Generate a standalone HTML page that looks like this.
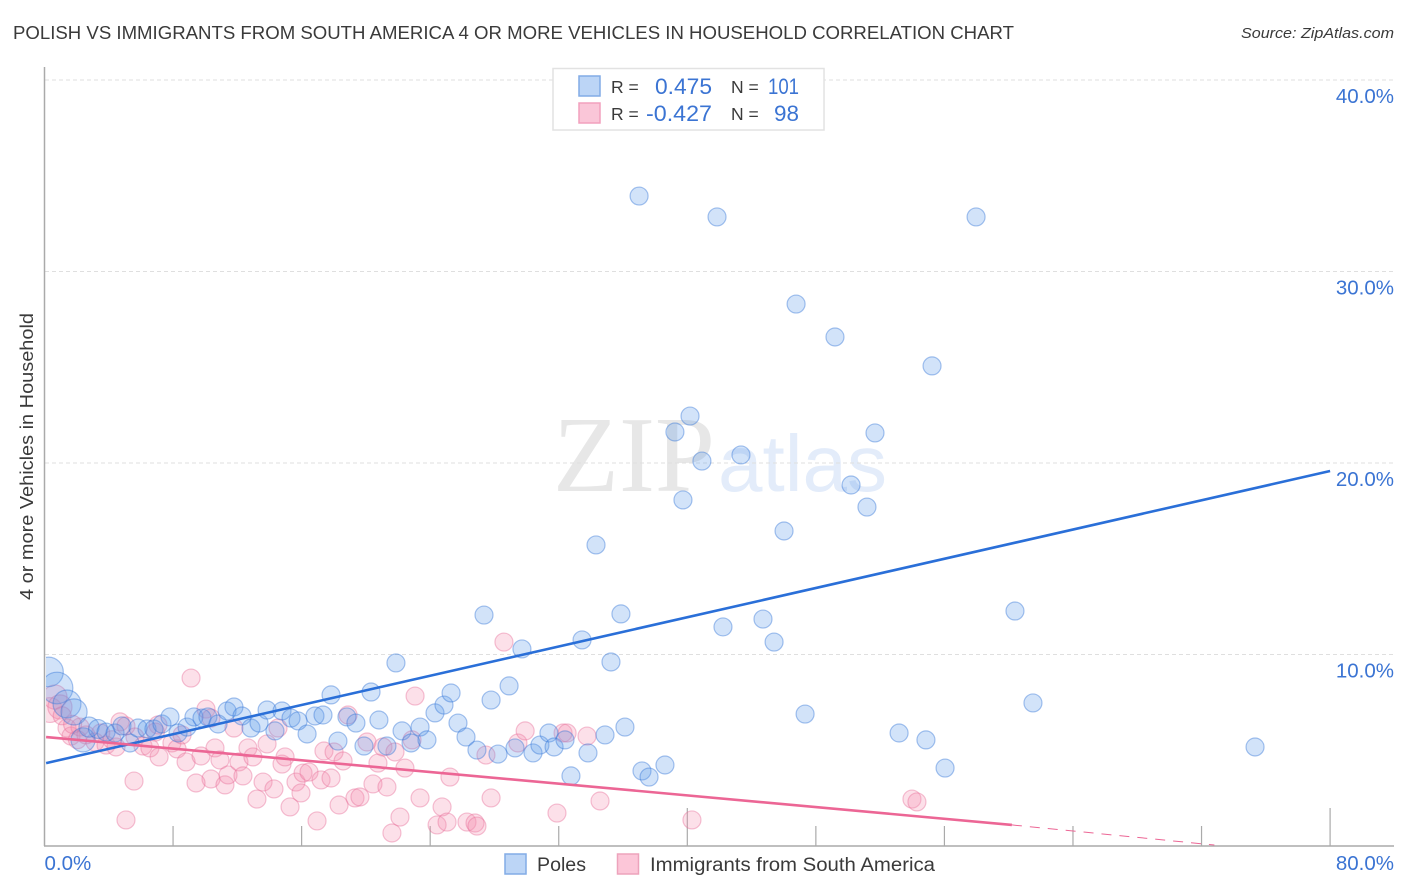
<!DOCTYPE html>
<html lang="en">
<head>
<meta charset="utf-8">
<title>Polish vs Immigrants from South America correlation chart</title>
<style>
html,body{margin:0;padding:0;background:#fff;width:1406px;height:892px;overflow:hidden}
svg{display:block;font-family:"Liberation Sans",sans-serif}
</style>
</head>
<body>
<svg id="chart" width="1406" height="892" viewBox="0 0 1406 892" xmlns="http://www.w3.org/2000/svg">
  <defs><clipPath id="plot-clip"><rect x="46" y="60" width="1350" height="786"/></clipPath></defs>
  <rect x="0" y="0" width="1406" height="892" fill="#fff"/>
  <text x="13" y="39" font-size="18.5" fill="#3a3a3a" textLength="1001" lengthAdjust="spacingAndGlyphs">POLISH VS IMMIGRANTS FROM SOUTH AMERICA 4 OR MORE VEHICLES IN HOUSEHOLD CORRELATION CHART</text>
  <text x="1394" y="38" font-size="15" font-style="italic" fill="#3a3a3a" text-anchor="end" textLength="153" lengthAdjust="spacingAndGlyphs">Source: ZipAtlas.com</text>
  <text transform="translate(33,456.5) rotate(-90)" font-size="18" fill="#3a3a3a" text-anchor="middle" textLength="287" lengthAdjust="spacingAndGlyphs">4 or more Vehicles in Household</text>
  <g>
    <text x="553" y="491" font-family="'Liberation Serif',serif" font-size="108" fill="#e7e7e7" textLength="162" lengthAdjust="spacingAndGlyphs">ZIP</text>
    <text x="718" y="491" font-size="80" fill="#e3ecfa" textLength="169" lengthAdjust="spacingAndGlyphs">atlas</text>
  </g>
  <g id="grid"></g>
  <g id="axes"></g>
  <g id="points" clip-path="url(#plot-clip)"></g>
  <g id="trends"></g>
  <g id="labels"></g>

  <g>
    <rect x="553" y="68.5" width="271" height="61.5" fill="#fff" stroke="#e2e2e2" stroke-width="1.5"/>
    <rect x="579" y="76" width="21" height="20" fill="#bcd5f6" stroke="#82ace6" stroke-width="1.5"/>
    <rect x="579" y="103" width="21" height="20" fill="#fac6d8" stroke="#f2a0bd" stroke-width="1.5"/>
    <text x="611" y="93" font-size="17.5" fill="#3a3a3a">R =</text>
    <text x="712" y="94" font-size="22.5" fill="#3b74d3" text-anchor="end" textLength="57" lengthAdjust="spacingAndGlyphs">0.475</text>
    <text x="731" y="93" font-size="17.5" fill="#3a3a3a">N =</text>
    <text x="799" y="94" font-size="22.5" fill="#3b74d3" text-anchor="end" textLength="31" lengthAdjust="spacingAndGlyphs">101</text>
    <text x="611" y="120" font-size="17.5" fill="#3a3a3a">R =</text>
    <text x="712" y="121" font-size="22.5" fill="#3b74d3" text-anchor="end" textLength="66" lengthAdjust="spacingAndGlyphs">-0.427</text>
    <text x="731" y="120" font-size="17.5" fill="#3a3a3a">N =</text>
    <text x="799" y="121" font-size="22.5" fill="#3b74d3" text-anchor="end" textLength="25" lengthAdjust="spacingAndGlyphs">98</text>
  </g>

  <g>
    <rect x="505" y="854" width="21" height="20" fill="#bcd5f6" stroke="#82ace6" stroke-width="1.5"/>
    <text x="537" y="871" font-size="19" fill="#3a3a3a" textLength="49" lengthAdjust="spacingAndGlyphs">Poles</text>
    <rect x="617.500" y="854" width="21" height="20" fill="#fcc6d8" stroke="#eda3bc" stroke-width="1.5"/>
    <text x="650" y="871" font-size="19" fill="#3a3a3a" textLength="285" lengthAdjust="spacingAndGlyphs">Immigrants from South America</text>
  </g>
</svg>

<script>
const yTickValues = [10, 20, 30, 40];
const yTickLabels = ["10.0%", "20.0%", "30.0%", "40.0%"];
const xTickValues = [8, 16, 24, 32, 40, 48, 56, 64, 72, 80];
const xMajorTicks = [40, 80];
const xEndValues = [0, 80];
const xEndLabels = ["0.0%", "80.0%"];

const polesX = [0.25,0.78,1.40,1.84,2.40,2.77,3.33,3.83,4.39,4.82,5.32,5.82,6.38,6.81,7.31,7.81,8.31,8.87,9.30,9.80,10.17,10.80,11.36,11.79,12.29,12.85,13.35,13.85,14.34,14.78,15.34,15.78,16.34,16.83,17.33,17.83,18.26,18.82,19.38,19.88,20.32,20.81,21.31,21.87,22.25,22.81,23.37,23.80,24.30,24.86,25.30,25.73,26.23,26.91,27.79,28.22,28.91,29.28,29.71,30.40,30.83,31.39,31.71,32.39,32.76,33.45,33.82,34.88,35.25,36.12,37.18,37.62,38.61,37.00,41.85,57.97,46.77,49.19,55.23,40.17,39.23,51.68,40.91,43.34,50.19,39.73,51.18,46.02,34.32,27.35,35.87,60.39,42.22,44.71,45.40,47.33,53.18,54.85,56.04,61.51,75.33];
const polesY = [9.09,8.25,7.42,7.00,5.54,6.21,6.11,5.95,5.90,6.27,5.38,6.16,6.11,6.11,6.37,6.74,5.90,6.21,6.74,6.68,6.74,6.37,7.05,7.26,6.79,6.16,6.42,7.10,6.01,7.05,6.68,6.53,5.85,6.79,6.84,7.89,5.48,6.74,6.42,5.22,8.04,6.58,5.22,9.56,6.01,5.38,6.21,5.54,6.95,7.36,7.99,6.42,5.69,5.01,7.62,4.80,8.36,5.12,10.29,4.86,5.27,5.90,5.17,5.54,3.66,10.76,4.86,5.80,9.61,6.21,3.92,3.60,4.23,33.94,32.85,32.85,28.30,26.58,25.07,22.45,21.62,21.57,20.10,20.42,18.85,18.07,17.70,16.45,15.72,12.06,12.12,12.27,11.44,11.85,10.65,6.89,5.90,5.54,4.07,7.47,5.17];
const polesWeight = [2.7,3.1,2.4,2.1,1.8,1.25,1.1];

const immigrantsX = [0.34,0.65,0.96,1.40,1.65,2.21,2.58,3.14,3.83,4.45,4.70,5.07,5.57,5.07,5.63,6.13,6.56,7.13,7.06,7.93,8.25,8.81,8.56,9.12,9.74,10.05,10.36,10.61,10.92,10.36,9.43,11.23,11.42,11.79,12.10,12.35,12.66,12.97,13.22,13.60,13.85,14.28,14.53,14.78,14.97,15.28,15.65,15.96,16.09,16.46,16.96,17.21,17.39,17.83,18.02,18.33,18.58,18.89,19.32,19.63,20.07,20.44,20.75,21.06,21.31,21.81,21.62,22.12,22.43,23.06,22.87,23.37,24.43,24.74,25.05,25.23,26.29,26.79,26.91,27.47,27.79,28.59,29.46,29.91,31.89,32.27,32.52,33.76,34.57,40.29,53.98,54.29,1.10,1.75,2.05,3.50,4.20,6.90];
const immigrantsY = [7.10,7.78,7.26,6.16,5.74,6.21,5.80,5.43,5.27,5.17,6.48,6.27,3.39,1.36,5.69,5.22,5.12,4.65,6.32,5.38,5.07,4.39,5.80,8.77,4.70,7.15,6.68,5.12,4.49,3.50,3.29,3.19,3.71,6.16,4.39,3.66,5.12,4.65,2.45,3.34,5.33,2.98,6.16,4.28,4.65,2.04,3.34,2.77,3.81,3.86,1.31,3.45,4.96,3.55,4.91,2.14,4.44,6.84,2.51,2.56,5.43,3.24,4.33,5.17,3.08,4.91,0.68,1.51,4.07,7.83,5.54,2.51,1.10,2.04,1.25,3.60,1.25,1.20,1.04,4.75,2.51,10.65,5.38,6.01,1.72,5.90,5.90,5.74,2.35,1.36,2.45,2.30,6.80,6.35,5.55,5.90,5.55,5.95];
const immigrantsWeight = [1.9,1.8,1.8];

const polesTrendX = [0.1, 80];
const polesTrendY = [4.33, 19.58];
const immigrantsTrendX = [0.1, 60.2];
const immigrantsTrendY = [5.69, 1.10];
const immigrantsDashX = [60.2, 72.8];
const immigrantsDashY = [1.10, 0.05];

const SVG_NS = "http://www.w3.org/2000/svg";
const xScale = function (v) { return 44.5 + v * 16.07; };
const yScale = function (v) { return 846 - v * 19.15; };
const make = function (tag, parent) {
  const el = document.createElementNS(SVG_NS, tag);
  document.getElementById(parent).appendChild(el);
  return el;
};

yTickValues.forEach(function (v, i) {
  const line = make("line", "grid");
  
  
  line.setAttribute("x1", 45);
  line.setAttribute("x2", 1394);
  line.setAttribute("y1", yScale(v));
  line.setAttribute("y2", yScale(v));
  line.setAttribute("stroke", "#dfdfdf");
  line.setAttribute("stroke-width", "1");
  line.setAttribute("stroke-dasharray", "4 3");

  const label = make("text", "labels");
  
  
  label.setAttribute("x", 1394);
  label.setAttribute("y", yScale(v) + 23);
  label.setAttribute("font-size", "20.5");
  label.setAttribute("fill", "#3b74d3");
  label.setAttribute("text-anchor", "end");
  label.textContent = yTickLabels[i];
});

const yAxis = make("line", "axes");


yAxis.setAttribute("x1", 44.5);
yAxis.setAttribute("x2", 44.5);
yAxis.setAttribute("y1", 67);
yAxis.setAttribute("y2", 846);
yAxis.setAttribute("stroke", "#aaa");
yAxis.setAttribute("stroke-width", "1.5");

const xAxis = make("line", "axes");


xAxis.setAttribute("x1", 44);
xAxis.setAttribute("x2", 1394);
xAxis.setAttribute("y1", yScale(0));
xAxis.setAttribute("y2", yScale(0));
xAxis.setAttribute("stroke", "#aaa");
xAxis.setAttribute("stroke-width", "1.5");

xTickValues.forEach(function (v) {
  const tick = make("line", "axes");
  
  
  const len = xMajorTicks.indexOf(v) >= 0 ? 38 : 20;
  tick.setAttribute("x1", xScale(v));
  tick.setAttribute("x2", xScale(v));
  tick.setAttribute("y1", yScale(0) - len);
  tick.setAttribute("y2", yScale(0));
  tick.setAttribute("stroke", "#aaa");
  tick.setAttribute("stroke-width", "1.2");
});

xEndValues.forEach(function (v, i) {
  const label = make("text", "labels");
  
  
  label.setAttribute("x", i === 0 ? 44.5 : 1394);
  label.setAttribute("y", 870);
  label.setAttribute("font-size", "20.5");
  label.setAttribute("fill", "#3b74d3");
  label.setAttribute("text-anchor", i === 0 ? "start" : "end");
  label.textContent = xEndLabels[i];
});

immigrantsX.forEach(function (v, i) {
  const dot = make("circle", "points");
  
  
  const w = immigrantsWeight[i] || 1;
  dot.setAttribute("cx", xScale(v));
  dot.setAttribute("cy", yScale(immigrantsY[i]));
  dot.setAttribute("r", 9 * Math.sqrt(w));
  dot.setAttribute("fill", "#f58fb0");
  dot.setAttribute("fill-opacity", "0.28");
  dot.setAttribute("stroke", "#e66e98");
  dot.setAttribute("stroke-opacity", "0.42");
  dot.setAttribute("stroke-width", "1.2");
});

polesX.forEach(function (v, i) {
  const dot = make("circle", "points");
  
  
  const w = polesWeight[i] || 1;
  dot.setAttribute("cx", xScale(v));
  dot.setAttribute("cy", yScale(polesY[i]));
  dot.setAttribute("r", 9 * Math.sqrt(w));
  dot.setAttribute("fill", "#5e9bea");
  dot.setAttribute("fill-opacity", "0.28");
  dot.setAttribute("stroke", "#2f72d6");
  dot.setAttribute("stroke-opacity", "0.42");
  dot.setAttribute("stroke-width", "1.2");
});

const polesTrend = make("line", "trends");


polesTrend.setAttribute("x1", xScale(polesTrendX[0]));
polesTrend.setAttribute("y1", yScale(polesTrendY[0]));
polesTrend.setAttribute("x2", xScale(polesTrendX[1]));
polesTrend.setAttribute("y2", yScale(polesTrendY[1]));
polesTrend.setAttribute("stroke", "#2a6fd8");
polesTrend.setAttribute("stroke-width", "2.6");

const immigrantsTrend = make("line", "trends");


immigrantsTrend.setAttribute("x1", xScale(immigrantsTrendX[0]));
immigrantsTrend.setAttribute("y1", yScale(immigrantsTrendY[0]));
immigrantsTrend.setAttribute("x2", xScale(immigrantsTrendX[1]));
immigrantsTrend.setAttribute("y2", yScale(immigrantsTrendY[1]));
immigrantsTrend.setAttribute("stroke", "#ec6695");
immigrantsTrend.setAttribute("stroke-width", "2.6");

const immigrantsDash = make("line", "trends");


immigrantsDash.setAttribute("x1", xScale(immigrantsDashX[0]));
immigrantsDash.setAttribute("y1", yScale(immigrantsDashY[0]));
immigrantsDash.setAttribute("x2", xScale(immigrantsDashX[1]));
immigrantsDash.setAttribute("y2", yScale(immigrantsDashY[1]));
immigrantsDash.setAttribute("stroke", "#ec6695");
immigrantsDash.setAttribute("stroke-width", "1");
immigrantsDash.setAttribute("stroke-dasharray", "10 8");
</script>
</body>
</html>
